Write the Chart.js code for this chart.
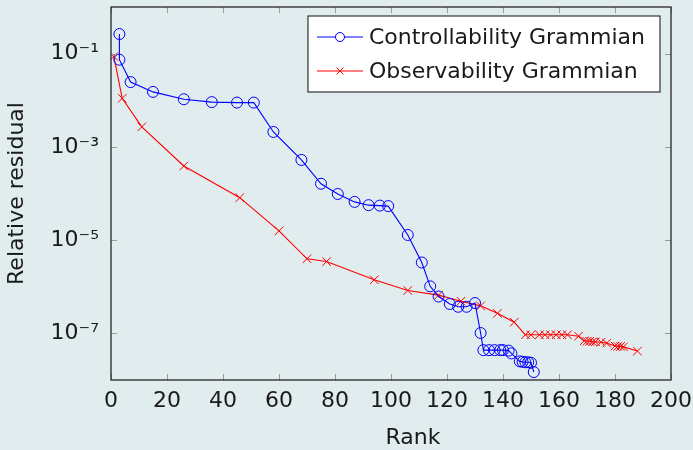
<!DOCTYPE html>
<html><head><meta charset="utf-8">
<script src="https://cdn.jsdelivr.net/npm/chart.js@4.4.0/dist/chart.umd.min.js"></script>
<style>html,body{margin:0;padding:0;background:#e1ecee;}#wrap{width:693px;height:450px;}</style>
</head><body><div id="wrap"><canvas id="c" width="693" height="450"></canvas></div>
<script>
// ---- data ----
const ctrlLabel = 'Controllability Grammian';
const ctrlRank = [3, 3, 7, 15, 26, 36, 45, 51, 58, 68, 75, 81, 87, 92, 96, 99, 106, 111, 114, 117, 121, 124, 127, 130, 132, 133, 135, 137, 139, 140, 142, 143, 146, 147, 148, 149, 150, 151];
const ctrlResidual = [0.263, 0.0741, 0.0245, 0.0151, 0.0105, 0.00912, 0.00891, 0.00891, 0.00209, 5.25e-4, 1.62e-4, 9.77e-5, 6.61e-5, 5.62e-5, 5.5e-5, 5.37e-5, 1.29e-5, 3.31e-6, 1.02e-6, 6.17e-7, 4.27e-7, 3.72e-7, 3.72e-7, 4.47e-7, 1.02e-7, 4.37e-8, 4.37e-8, 4.37e-8, 4.37e-8, 4.37e-8, 4.27e-8, 3.72e-8, 2.51e-8, 2.45e-8, 2.40e-8, 2.40e-8, 2.34e-8, 1.48e-8];

const obsLabel = 'Observability Grammian';
const obsRank = [1, 4, 11, 26, 46, 60, 70, 77, 94, 106, 117, 125, 132, 138, 144, 148, 150, 153, 155, 157, 159, 161, 163, 167, 169, 170, 171, 172, 173, 175, 177, 180, 181, 182, 183, 188];
const obsResidual = [0.087, 0.011, 0.00269, 3.89e-4, 8.13e-5, 1.58e-5, 3.98e-6, 3.47e-6, 1.41e-6, 8.32e-7, 6.61e-7, 4.90e-7, 3.89e-7, 2.69e-7, 1.74e-7, 9.33e-8, 9.33e-8, 9.33e-8, 9.33e-8, 9.33e-8, 9.33e-8, 9.33e-8, 9.33e-8, 8.71e-8, 6.92e-8, 6.76e-8, 6.76e-8, 6.61e-8, 6.61e-8, 6.46e-8, 6.17e-8, 5.37e-8, 5.25e-8, 5.25e-8, 5.13e-8, 4.17e-8];

const xTickValues = [0, 20, 40, 60, 80, 100, 120, 140, 160, 180, 200];
const yTickValues = [1e-7, 1e-5, 1e-3, 1e-1];
const yTickLabels = ['10\u207B\u2077', '10\u207B\u2075', '10\u207B\u00B3', '10\u207B\u00B9'];
const xTitle = 'Rank';
const yTitle = 'Relative residual';

// ---- styling ----
const BG = '#e1ecee';
const FONT = 'DejaVu Sans';
const TXT = '#1a1a1a';

const toPts = (xs, ys) => xs.map((x, i) => ({x: x, y: ys[i]}));

const bgPlugin = {
  id: 'bg',
  beforeDraw(chart) {
    const c = chart.ctx;
    c.save(); c.fillStyle = BG; c.fillRect(0, 0, chart.width, chart.height); c.restore();
  }
};

const framePlugin = {
  id: 'frame',
  afterDatasetsDraw(chart) {
    const c = chart.ctx, a = chart.chartArea;
    const xs = chart.scales.x, ys = chart.scales.y;
    const L = 6;
    c.save();
    c.strokeStyle = '#9a9a9a'; c.lineWidth = 1;
    c.beginPath();
    xs.ticks.forEach(t => {
      const px = Math.round(xs.getPixelForValue(t.value)) + 0.5;
      c.moveTo(px, a.bottom); c.lineTo(px, a.bottom - L);
      c.moveTo(px, a.top); c.lineTo(px, a.top + L);
    });
    ys.ticks.forEach(t => {
      const py = Math.round(ys.getPixelForValue(t.value)) + 0.5;
      c.moveTo(a.left, py); c.lineTo(a.left + L, py);
      c.moveTo(a.right, py); c.lineTo(a.right - L, py);
    });
    c.stroke();
    c.strokeStyle = '#262626'; c.lineWidth = 1.3;
    c.strokeRect(a.left, a.top, a.right - a.left, a.bottom - a.top);
    c.restore();
  },
  afterDraw(chart) {
    const c = chart.ctx, a = chart.chartArea;
    c.save();
    c.font = '22px "' + FONT + '"';
    // x-axis title
    c.fillStyle = TXT; c.textAlign = 'center'; c.textBaseline = 'middle';
    c.fillText(xTitle, (a.left + a.right) / 2 + 22, 438);
    // legend box
    const items = chart.data.datasets;
    const textW = Math.max(...items.map(d => c.measureText(d.label).width));
    const right = a.right - 11, top = a.top + 9;
    const padL = 9, lineW = 46, gap = 6, padR = 15;
    const w = padL + lineW + gap + textW + padR;
    const h = 76;
    const left = right - w;
    c.fillStyle = '#ffffff';
    c.fillRect(left, top, w, h);
    c.strokeStyle = '#333333'; c.lineWidth = 1.2;
    c.strokeRect(left, top, w, h);
    items.forEach((d, i) => {
      const cy = top + 21 + i * 34;
      const x0 = left + padL, x1 = x0 + lineW, xm = (x0 + x1) / 2;
      c.strokeStyle = d.borderColor; c.lineWidth = 1.2;
      c.beginPath(); c.moveTo(x0, cy); c.lineTo(x1, cy); c.stroke();
      c.lineWidth = 1;
      if (d.pointStyle === 'circle') {
        c.fillStyle = '#ffffff';
        c.beginPath(); c.arc(xm, cy, 4.5, 0, Math.PI * 2); c.fill(); c.stroke();
      } else {
        const r = 3.5;
        c.beginPath();
        c.moveTo(xm - r, cy - r); c.lineTo(xm + r, cy + r);
        c.moveTo(xm - r, cy + r); c.lineTo(xm + r, cy - r);
        c.stroke();
      }
      c.fillStyle = TXT;
      c.textBaseline = 'middle'; c.textAlign = 'left';
      c.fillText(d.label, x1 + gap, cy + 1);
    });
    c.restore();
  }
};

new Chart(document.getElementById('c'), {
  type: 'scatter',
  data: {
    datasets: [
      {
        label: ctrlLabel,
        data: toPts(ctrlRank, ctrlResidual),
        showLine: true,
        borderColor: '#0000ff',
        backgroundColor: 'rgba(0,0,0,0)',
        borderWidth: 1.1,
        pointStyle: 'circle',
        pointRadius: 5.5,
        pointBorderWidth: 1,
        pointBorderColor: '#0000ff',
        pointBackgroundColor: 'rgba(0,0,0,0)',
        tension: 0
      },
      {
        label: obsLabel,
        data: toPts(obsRank, obsResidual),
        showLine: true,
        borderColor: '#ff0000',
        backgroundColor: 'rgba(0,0,0,0)',
        borderWidth: 1.1,
        pointStyle: 'crossRot',
        pointRadius: 6,
        pointBorderWidth: 1,
        pointBorderColor: '#ff0000',
        tension: 0
      }
    ]
  },
  options: {
    responsive: false,
    animation: false,
    devicePixelRatio: 1,
    layout: { padding: { top: 5, right: 22, bottom: 0, left: 0 } },
    plugins: { legend: { display: false }, tooltip: { enabled: false } },
    scales: {
      x: {
        type: 'linear', min: 0, max: 200,
        afterBuildTicks: s => { s.ticks = xTickValues.map(v => ({ value: v })); },
        afterFit: s => { s.height = 70; s.paddingLeft = 0; s.paddingRight = 0; },
        grid: { display: true, drawOnChartArea: false, drawTicks: false, color: 'rgba(0,0,0,0)' },
        border: { display: false },
        ticks: { font: { family: FONT, size: 22 }, color: TXT, padding: 8, maxRotation: 0, autoSkip: false },
        title: { display: false }
      },
      y: {
        type: 'logarithmic', min: 1e-8, max: 1,
        afterBuildTicks: s => { s.ticks = yTickValues.map(v => ({ value: v })); },
        afterFit: s => { s.width = 111; s.paddingTop = 0; s.paddingBottom = 0; },
        grid: { display: true, drawOnChartArea: false, drawTicks: false, color: 'rgba(0,0,0,0)' },
        border: { display: false },
        ticks: {
          font: { family: FONT, size: 22 }, color: TXT, padding: 12, autoSkip: false,
          callback: (v) => { const i = yTickValues.indexOf(v); return i >= 0 ? yTickLabels[i] : ''; }
        },
        title: { display: true, text: yTitle, font: { family: FONT, size: 22 }, color: TXT, padding: { top: 4, bottom: 0 } }
      }
    }
  },
  plugins: [bgPlugin, framePlugin]
});
</script>
</body></html>
